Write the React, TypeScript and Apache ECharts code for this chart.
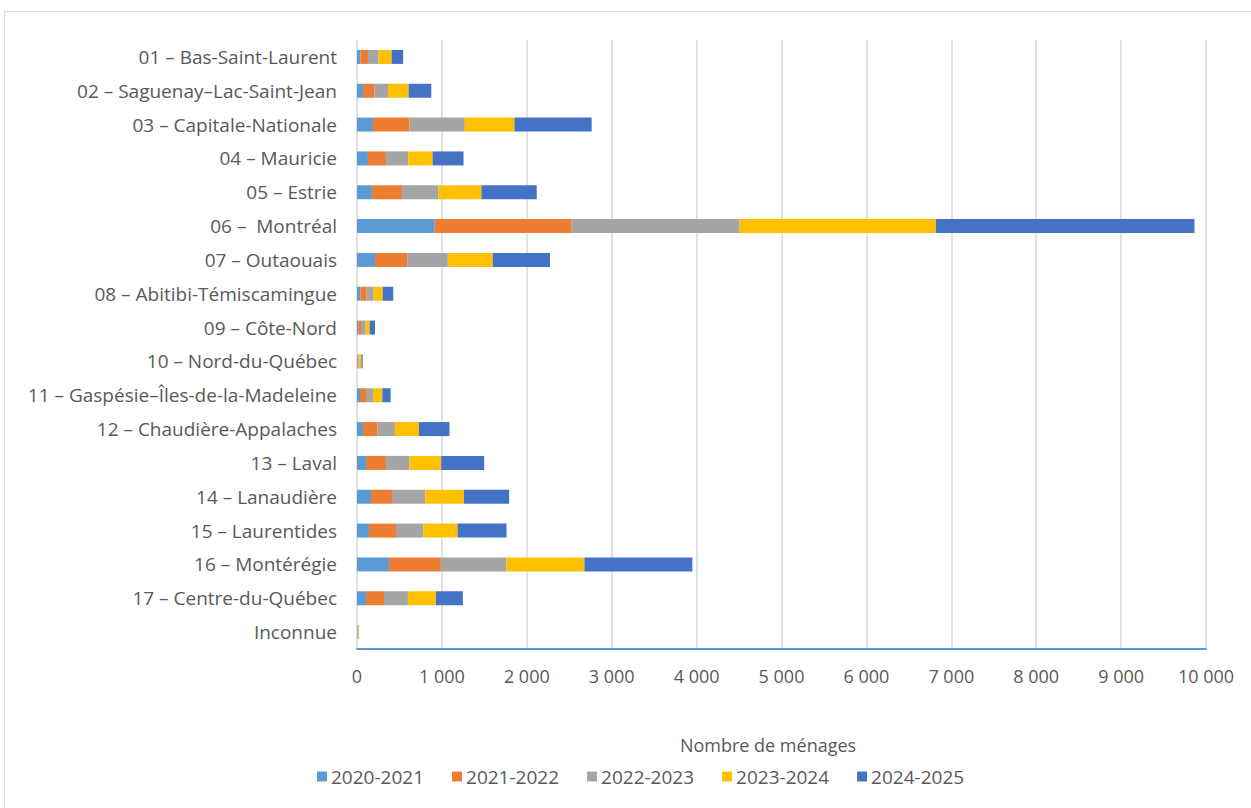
import React, { useEffect, useRef } from "react";
import * as echarts from "echarts";

const categories = [
  "01 – Bas-Saint-Laurent",
  "02 – Saguenay–Lac-Saint-Jean",
  "03 – Capitale-Nationale",
  "04 – Mauricie",
  "05 – Estrie",
  "06 –  Montréal",
  "07 – Outaouais",
  "08 – Abitibi-Témiscamingue",
  "09 – Côte-Nord",
  "10 – Nord-du-Québec",
  "11 – Gaspésie–Îles-de-la-Madeleine",
  "12 – Chaudière-Appalaches",
  "13 – Laval",
  "14 – Lanaudière",
  "15 – Laurentides",
  "16 – Montérégie",
  "17 – Centre-du-Québec",
  "Inconnue",
];

const seriesNames = ["2020-2021", "2021-2022", "2022-2023", "2023-2024", "2024-2025"];

const v2020 = [39, 71, 188, 129, 176, 916, 212, 39, 16, 5, 35, 71, 106, 165, 141, 376, 106, 3];
const v2021 = [90, 137, 431, 212, 353, 1613, 380, 75, 31, 10, 71, 172, 235, 247, 318, 612, 212, 4];
const v2022 = [125, 157, 651, 263, 431, 1976, 478, 82, 55, 15, 82, 204, 278, 392, 322, 773, 282, 6];
const v2023 = [153, 243, 584, 286, 506, 2313, 529, 106, 47, 22, 110, 282, 373, 455, 404, 918, 329, 5];
const v2024 = [137, 267, 910, 365, 651, 3046, 674, 125, 63, 15, 98, 361, 506, 533, 576, 1271, 318, 3];

const seriesValues = [v2020, v2021, v2022, v2023, v2024];
const colors = ["#5B9BD5", "#ED7D31", "#A5A5A5", "#FFC000", "#4472C4"];

const FONT = "'Open Sans', sans-serif";
const TXT = "#595959";

export default function App() {
  const ref = useRef<HTMLDivElement>(null);
  useEffect(() => {
    if (!ref.current) return;
    const chart = echarts.init(ref.current, undefined, { renderer: "svg" });
    chart.setOption({
      animation: false,
      textStyle: { fontFamily: FONT },
      grid: { left: 357, right: 45, top: 40, bottom: 159, containLabel: false },
      legend: {
        data: seriesNames,
        left: 317,
        top: 767,
        padding: 0,
        itemWidth: 10,
        itemHeight: 10,
        itemGap: 28,
        icon: "rect",
        textStyle: { color: TXT, fontSize: 19, fontFamily: FONT, padding: [0, 0, 0, -1] },
      },
      xAxis: {
        type: "value",
        min: 0,
        max: 10000,
        interval: 1000,
        axisLine: { show: true, lineStyle: { color: "#5B9BD5", width: 2 } },
        axisTick: { show: false },
        splitLine: { show: true, lineStyle: { color: "#D9D9D9", width: 1.5 } },
        axisLabel: {
          color: TXT,
          fontSize: 18,
          fontFamily: FONT,
          margin: 18,
          formatter: (v: number) => String(v).replace(/\B(?=(\d{3})+(?!\d))/g, " "),
        },
      },
      yAxis: {
        type: "category",
        inverse: true,
        data: categories,
        axisLine: { show: false },
        axisTick: { show: false },
        axisLabel: { color: TXT, fontSize: 19, fontFamily: FONT, margin: 20 },
      },
      graphic: [
        {
          type: "rect",
          shape: { x: 4.5, y: 11.5, width: 1300, height: 900 },
          style: { fill: "none", stroke: "#D9D9D9", lineWidth: 1 },
          silent: true,
          z: -10,
        },
        {
          type: "text",
          x: 768,
          y: 745,
          style: {
            text: "Nombre de ménages",
            fill: TXT,
            font: `18px ${FONT}`,
            textAlign: "center",
            textVerticalAlign: "middle",
          },
        },
      ],
      series: seriesNames.map((name, i) => ({
        name,
        type: "bar",
        stack: "total",
        barWidth: 14,
        data: seriesValues[i],
        itemStyle: { color: colors[i] },
      })),
    });
    return () => chart.dispose();
  }, []);
  return (
    <div
      ref={ref}
      style={{ position: "absolute", left: 0, top: 0, width: 1251, height: 808, background: "#fff" }}
    />
  );
}
